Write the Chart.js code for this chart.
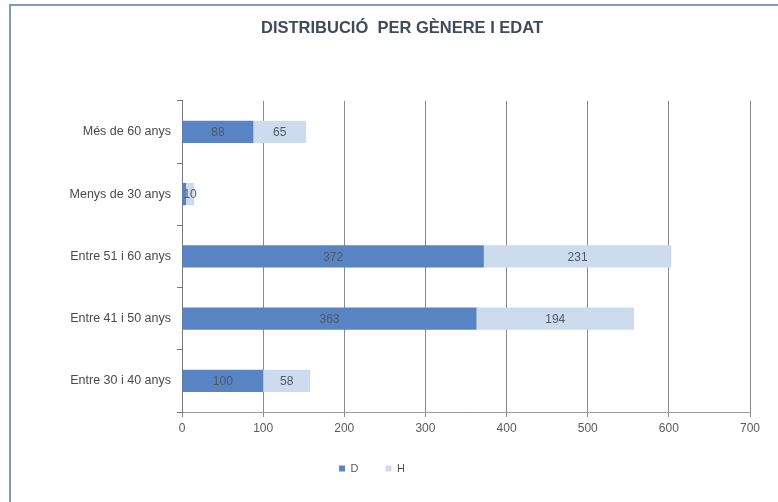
<!DOCTYPE html>
<html>
<head>
<meta charset="utf-8">
<script src="https://cdn.jsdelivr.net/npm/chart.js@4"></script>
<style>
  html, body { margin: 0; padding: 0; background: #fff; }
  #wrap { position: absolute; left: 0; top: 0; width: 778px; height: 502px; }
  #frame { position: absolute; left: 9px; top: 4px; width: 800px; height: 600px;
           border-left: 2px solid #7f9cc0; border-top: 2px solid #7f9cc0; }
  canvas { position: absolute; left: 0; top: 0; }
</style>
</head>
<body>
<div id="wrap">
  <div id="frame"></div>
  <canvas id="chart" width="778" height="502"></canvas>
</div>
<script>
// categories (top to bottom)
var edats = ["Més de 60 anys", "Menys de 30 anys", "Entre 51 i 60 anys", "Entre 41 i 50 anys", "Entre 30 i 40 anys"];
// D (dones) i H (homes)
var valorsD = [88, 5, 372, 363, 100];
var valorsH = [65, 10, 231, 194, 58];
var ticksX = [0, 100, 200, 300, 400, 500, 600, 700];

var fontFam = '"Liberation Sans", Arial, sans-serif';

// etiquetes dins les barres
var etiquetes = {
  id: 'etiquetes',
  afterDatasetsDraw: function(chart) {
    var ctx = chart.ctx;
    ctx.save();
    ctx.font = '12px ' + fontFam;
    ctx.fillStyle = '#505a6a';
    ctx.textAlign = 'center';
    ctx.textBaseline = 'middle';
    chart.data.datasets.forEach(function(ds, i) {
      var meta = chart.getDatasetMeta(i);
      meta.data.forEach(function(bar, j) {
        var w = Math.abs(bar.x - bar.base);
        if (w < 6) return;
        var p = bar.getCenterPoint();
        ctx.fillText(ds.data[j], p.x, p.y + 1);
      });
    });
    ctx.restore();
  }
};

// titol una mica a la dreta, llegenda una mica a l'esquerra (com l'original)
var desplacar = {
  id: 'desplacar',
  afterLayout: function(chart) {
    if (chart.titleBlock) { chart.titleBlock.left += 13; chart.titleBlock.right += 13; }
    if (chart.legend) { chart.legend.left -= 17; chart.legend.right -= 17; }
  }
};

new Chart(document.getElementById("chart"), {
  type: 'bar',
  data: {
    labels: edats,
    datasets: [{
        label: "D",
        data: valorsD,
        backgroundColor: "#5884c3",
        borderWidth: 0,
        barPercentage: 0.355,
        categoryPercentage: 1
      }, {
        label: "H",
        data: valorsH,
        backgroundColor: "#cddbee",
        borderWidth: 0,
        barPercentage: 0.355,
        categoryPercentage: 1
      }
    ]
  },
  plugins: [etiquetes, desplacar],
  options: {
    indexAxis: 'y',
    responsive: false,
    animation: false,
    layout: { padding: { left: 0, right: 0, top: 0, bottom: 18 } },
    scales: {
      x: {
        stacked: true,
        min: 0,
        max: 700,
        afterBuildTicks: function(scale) {
          scale.ticks = ticksX.map(function(v) { return { value: v }; });
        },
        grid: { color: '#8a8a8a', lineWidth: 1, tickLength: 5 },
        border: { color: '#9a9a9a' },
        ticks: {
          color: '#5a5a5a',
          padding: 4,
          font: { family: fontFam, size: 12 }
        },
        afterFit: function(scale) { scale.height = 24; scale.paddingRight = 28; }
      },
      y: {
        stacked: true,
        grid: { drawOnChartArea: false, color: '#777', tickLength: 5 },
        border: { color: '#777' },
        ticks: {
          color: '#4a4a4a',
          padding: 6,
          font: { family: fontFam, size: 12.5 }
        },
        afterFit: function(scale) { scale.width = 182; }
      }
    },
    plugins: {
      title: {
        display: true,
        text: 'DISTRIBUCIÓ  PER GÈNERE I EDAT',
        color: '#3f4a5c',
        font: { family: fontFam, size: 16.5, weight: 'bold' },
        padding: { top: 19, bottom: 62 }
      },
      legend: {
        position: 'bottom',
        labels: {
          boxWidth: 6,
          boxHeight: 6,
          padding: 27,
          color: '#555',
          font: { family: fontFam, size: 11 }
        }
      },
      tooltip: { enabled: false }
    }
  }
});
</script>
</body>
</html>
